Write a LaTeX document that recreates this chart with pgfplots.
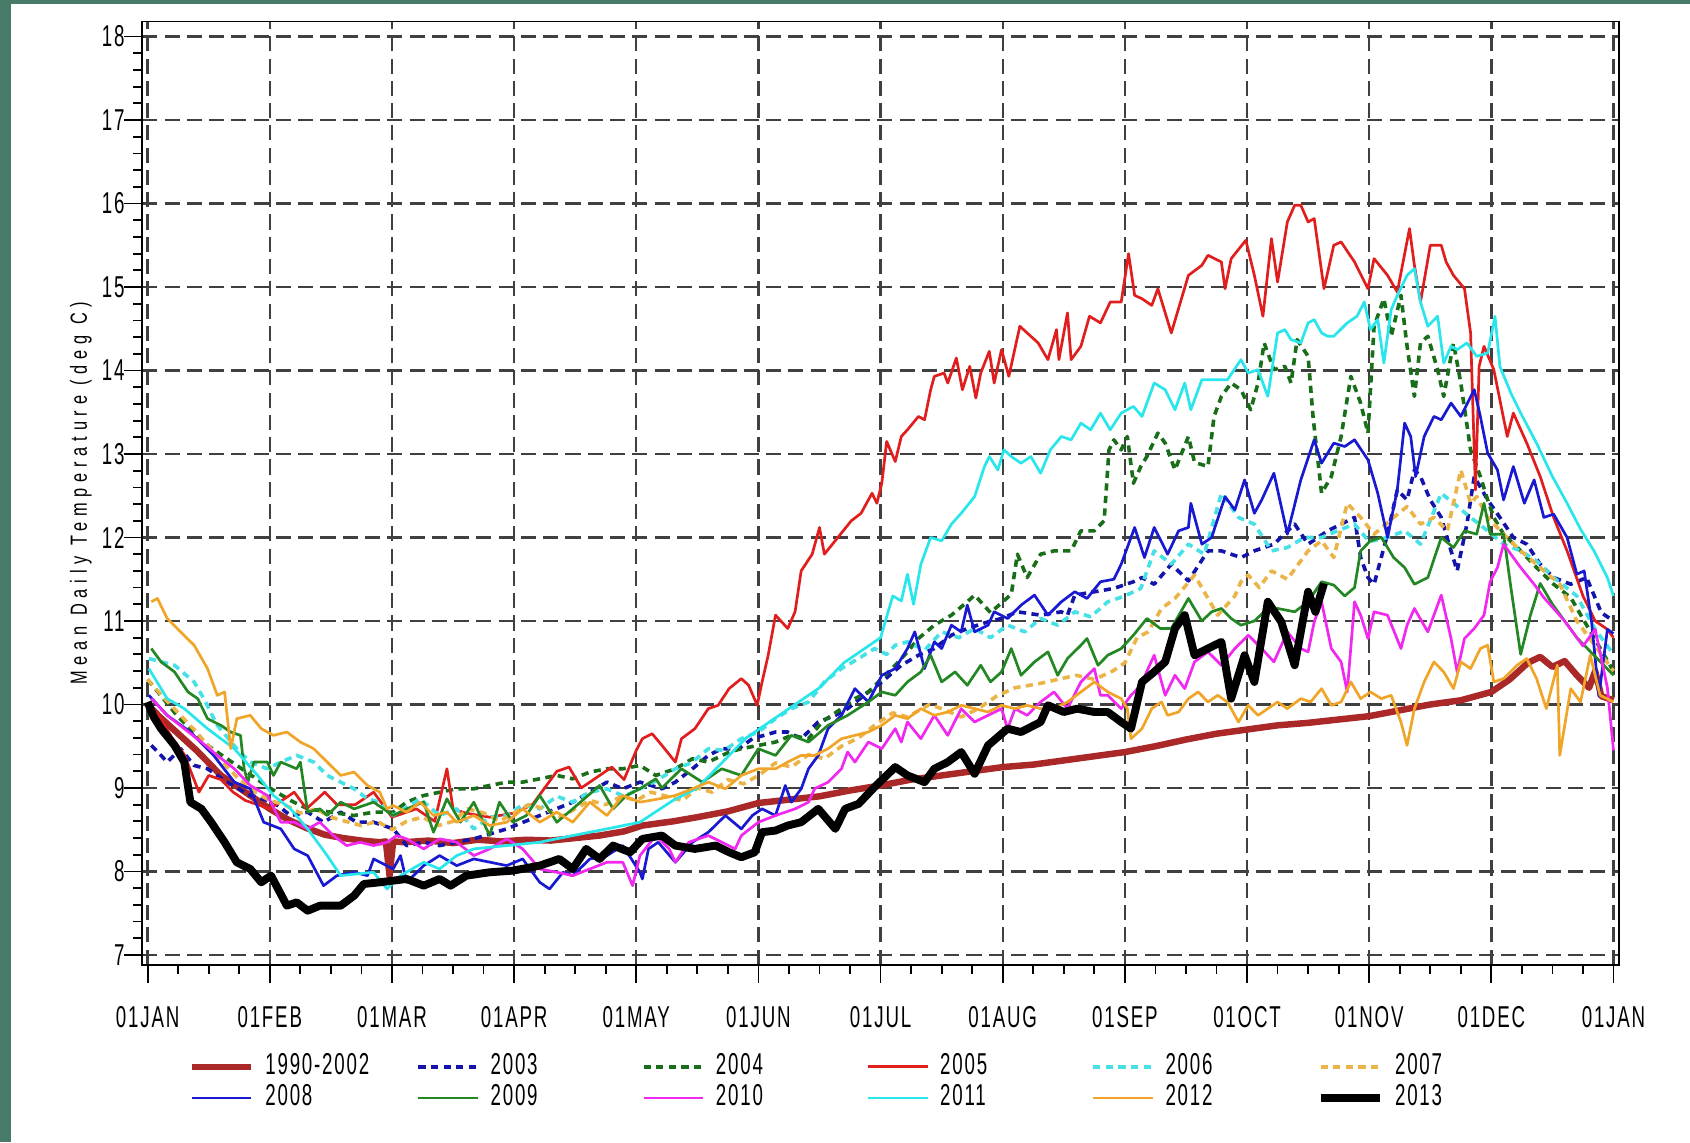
\documentclass[border=0pt]{standalone}
\usepackage{fontspec}
\usepackage{pgfplots}
\pgfplotsset{compat=1.18}
\newfontfamily\tickfont{Liberation Sans}[FakeStretch=0.62,LetterSpace=6]
\newfontfamily\ylabfont{Liberation Sans}[FakeStretch=0.7,LetterSpace=25]

\definecolor{bggreen}{RGB}{72,122,104}
\definecolor{c9002}{RGB}{170,40,40}
\definecolor{c03}{RGB}{20,20,170}
\definecolor{c04}{RGB}{25,110,25}
\definecolor{c05}{RGB}{225,30,30}
\definecolor{c06}{RGB}{70,225,230}
\definecolor{c07}{RGB}{235,180,70}
\definecolor{c08}{RGB}{25,25,210}
\definecolor{c09}{RGB}{35,135,35}
\definecolor{c10}{RGB}{240,40,240}
\definecolor{c11}{RGB}{40,230,235}
\definecolor{c12}{RGB}{240,165,40}

\begin{document}
\begin{tikzpicture}
% frame of the slide
\fill[bggreen] (0,0) rectangle (470.4pt,318pt);
\fill[white] (3pt,0) rectangle (470.4pt,316.8pt);

\begin{axis}[
  scale only axis, width=411pt, height=262.5pt,
  at={(39.6pt,49.5pt)}, anchor=south west,
  xmin=-0.044, xmax=12.044, ymin=6.884, ymax=18.18,
  xtick={0,...,12},
  xticklabels={01JAN,01FEB,01MAR,01APR,01MAY,01JUN,01JUL,01AUG,01SEP,01OCT,01NOV,01DEC,01JAN},
  ytick={7,...,18},
  minor x tick num=3, minor y tick num=4,
  tick align=outside, tick pos=left,
  major tick length=5pt, minor tick length=2.5pt,
  grid=major,
  major grid style={dash pattern=on 4.2pt off 2pt, line width=0.65pt, color=black!75},
  axis line style={line width=0.5pt},
  tick style={black, line width=0.5pt},
  ticklabel style={font=\tickfont\fontsize{8.4}{8.4}\selectfont},
  xticklabel style={yshift=-3pt},
  yticklabel style={xshift=3.6pt},
  /pgf/number format/assume math mode=true,
  ylabel={Mean Daily Temperature (deg C)},
  ylabel style={font=\ylabfont\fontsize{6.5}{6.5}\selectfont, at={(axis description cs:-0.0416,0.5)}, anchor=center},
  every axis plot/.append style={line join=round},
  legend columns=6,
  legend cell align=left,
  legend image code/.code={\draw[#1] (0pt,0pt) -- (16.5pt,0pt);},
  legend style={draw=none, fill=none, at={(axis description cs:0.0235,-0.084)}, anchor=north west,
    font=\tickfont\fontsize{8.4}{8.4}\selectfont,
    nodes={inner sep=0.5pt}, row sep=0.3pt,
    /tikz/every odd column/.append style={column sep=2.6pt},
    /tikz/every even column/.append style={column sep=3.6pt}},
]

% 1990-2002
\addplot[c9002, line width=1.8pt] coordinates {
(0,10.0) (0.1,9.85) (0.25,9.65) (0.4,9.45) (0.5,9.3) (0.6,9.15) (0.75,9.0) (0.9,8.85) (1.0,8.75) (1.15,8.62) (1.3,8.52) (1.45,8.44) (1.6,8.4) (1.75,8.37) (1.9,8.35) (1.95,8.36) (1.98,7.95) (2.01,8.36) (2.1,8.35) (2.3,8.37) (2.5,8.34) (2.7,8.38) (2.9,8.36) (3.1,8.38) (3.3,8.37) (3.5,8.4) (3.7,8.43) (3.9,8.48) (4.05,8.55) (4.3,8.6) (4.5,8.65) (4.75,8.72) (5.0,8.82) (5.25,8.86) (5.5,8.9) (5.75,8.97) (6.0,9.03) (6.25,9.1) (6.5,9.15) (6.75,9.2) (7.0,9.25) (7.25,9.28) (7.5,9.33) (7.75,9.38) (8.0,9.43) (8.25,9.5) (8.5,9.58) (8.75,9.65) (9.0,9.7) (9.25,9.75) (9.5,9.78) (9.75,9.82) (10.0,9.86) (10.25,9.93) (10.5,10.0) (10.75,10.05) (11.0,10.15) (11.15,10.3) (11.3,10.5) (11.4,10.57) (11.5,10.45) (11.6,10.52) (11.7,10.35) (11.8,10.2) (11.85,10.4) (11.9,10.1) (12.0,10.05)};
\addlegendentry{\makebox[38pt][l]{1990-2002}}

% 2003
\addplot[c03, line width=1.0pt, dash pattern=on 2pt off 1.5pt] coordinates {
(0.03,9.51) (0.11,9.39) (0.16,9.31) (0.27,9.47) (0.38,9.27) (0.49,9.23) (0.65,9.07) (0.84,8.91) (1.03,8.83) (1.17,8.67) (1.31,8.71) (1.44,8.59) (1.58,8.71) (1.71,8.59) (1.85,8.59) (2.01,8.51) (2.12,8.31) (2.26,8.35) (2.39,8.31) (2.67,8.39) (2.94,8.51) (3.21,8.67) (3.48,8.83) (3.62,8.95) (3.76,9.07) (3.89,8.99) (4.03,9.07) (4.21,8.99) (4.32,9.07) (4.46,9.23) (4.59,9.39) (4.70,9.47) (4.84,9.47) (4.95,9.59) (5.14,9.67) (5.24,9.67) (5.35,9.59) (5.49,9.79) (5.63,9.87) (5.73,9.95) (5.90,10.15) (6.01,10.27) (6.17,10.47) (6.31,10.59) (6.44,10.67) (6.58,10.83) (6.71,10.91) (6.88,10.99) (6.99,11.03) (7.12,11.11) (7.31,11.07) (7.48,11.11) (7.53,11.07) (7.59,11.31) (7.75,11.35) (7.91,11.39) (8.07,11.47) (8.14,11.52) (8.24,11.44) (8.38,11.68) (8.52,11.48) (8.68,11.84) (8.79,11.84) (8.95,11.76) (9.06,11.84) (9.22,11.92) (9.39,12.16) (9.50,11.92) (9.66,12.08) (9.77,12.16) (9.88,12.24) (9.93,11.76) (9.99,11.52) (10.04,11.44) (10.15,12.04) (10.23,12.57) (10.31,12.45) (10.37,12.81) (10.42,12.73) (10.50,12.45) (10.59,12.24) (10.67,11.84) (10.72,11.60) (10.80,12.16) (10.86,12.73) (10.97,12.45) (11.07,12.24) (11.18,12.0) (11.29,11.92) (11.40,11.68) (11.51,11.52) (11.65,11.44) (11.78,11.52) (11.9,11.1) (12.0,11.0)};
\addlegendentry{\makebox[38pt][l]{2003}}

% 2004
\addplot[c04, line width=1.0pt, dash pattern=on 2pt off 1.5pt] coordinates {
(0,10.3) (0.25,9.85) (0.5,9.5) (0.75,9.25) (1.0,9.0) (1.17,8.85) (1.31,8.75) (1.69,8.67) (1.85,8.71) (2.01,8.71) (2.12,8.83) (2.26,8.91) (2.53,8.99) (2.67,8.99) (2.80,9.03) (2.94,9.07) (3.07,9.07) (3.21,9.11) (3.35,9.15) (3.48,9.11) (3.62,9.19) (3.76,9.23) (3.89,9.23) (4.03,9.27) (4.16,9.15) (4.32,9.23) (4.46,9.35) (4.59,9.31) (4.76,9.43) (4.86,9.47) (5.0,9.51) (5.14,9.55) (5.27,9.63) (5.41,9.59) (5.52,9.79) (5.68,9.95) (5.79,10.07) (5.90,10.15) (6.01,10.31) (6.12,10.47) (6.22,10.63) (6.31,10.79) (6.44,10.95) (6.58,11.07) (6.71,11.23) (6.77,11.31) (6.9,11.1) (7.07,11.32) (7.12,11.80) (7.20,11.52) (7.31,11.80) (7.42,11.84) (7.56,11.84) (7.64,12.08) (7.75,12.08) (7.83,12.20) (7.87,13.05) (7.91,13.17) (7.97,13.05) (8.02,13.21) (8.07,12.65) (8.13,12.85) (8.18,12.97) (8.27,13.25) (8.33,13.13) (8.41,12.81) (8.52,13.21) (8.57,12.9) (8.68,12.85) (8.73,13.45) (8.79,13.69) (8.87,13.85) (8.95,13.77) (9.03,13.53) (9.09,13.85) (9.14,14.33) (9.22,14.01) (9.31,14.05) (9.36,13.85) (9.41,14.37) (9.50,14.17) (9.54,13.45) (9.61,12.53) (9.69,12.73) (9.77,13.21) (9.85,13.93) (9.93,13.61) (9.99,13.25) (10.04,14.53) (10.12,14.86) (10.18,14.41) (10.26,14.90) (10.31,14.29) (10.37,13.69) (10.42,14.33) (10.48,14.41) (10.56,14.01) (10.61,13.69) (10.69,14.33) (10.75,13.85) (10.83,13.05) (10.91,12.73) (10.97,12.45) (11.02,12.24) (11.10,12.04) (11.24,11.84) (11.37,11.64) (11.51,11.44) (11.65,11.28) (11.8,10.9) (12.0,10.4)};
\addlegendentry{\makebox[38pt][l]{2004}}

% 2005
\addplot[c05, line width=0.75pt] coordinates {
(0,10.0) (0.1,9.85) (0.2,9.6) (0.3,9.4) (0.42,8.95) (0.5,9.15) (0.6,9.1) (0.7,8.95) (0.8,8.85) (0.9,8.8) (1.0,8.75) (1.1,8.85) (1.2,8.95) (1.3,8.75) (1.45,8.95) (1.55,8.8) (1.7,8.8) (1.85,8.95) (2.0,8.65) (2.1,8.7) (2.2,8.75) (2.35,8.6) (2.45,9.23) (2.5,8.75) (2.6,8.7) (2.8,8.65) (3.0,8.7) (3.15,8.8) (3.35,9.2) (3.45,9.25) (3.55,9.0) (3.7,9.15) (3.8,9.25) (3.9,9.1) (4.0,9.45) (4.05,9.59) (4.13,9.65) (4.21,9.51) (4.32,9.31) (4.37,9.59) (4.48,9.71) (4.59,9.95) (4.67,9.99) (4.76,10.19) (4.86,10.31) (4.92,10.23) (4.99,9.99) (5.03,10.27) (5.08,10.59) (5.14,11.07) (5.24,10.91) (5.30,11.11) (5.35,11.6) (5.44,11.80) (5.50,12.12) (5.54,11.80) (5.65,12.0) (5.76,12.20) (5.84,12.29) (5.93,12.53) (5.97,12.41) (6.01,12.65) (6.05,13.15) (6.12,12.91) (6.17,13.21) (6.22,13.29) (6.31,13.45) (6.36,13.41) (6.41,13.77) (6.44,13.93) (6.52,13.97) (6.55,13.85) (6.62,14.15) (6.67,13.77) (6.73,14.05) (6.78,13.67) (6.82,13.97) (6.89,14.23) (6.93,13.85) (6.99,14.25) (7.05,13.93) (7.14,14.53) (7.20,14.45) (7.29,14.33) (7.37,14.13) (7.44,14.49) (7.46,14.13) (7.53,14.69) (7.56,14.13) (7.64,14.29) (7.71,14.65) (7.80,14.57) (7.88,14.82) (7.97,14.82) (8.03,15.40) (8.08,14.90) (8.14,14.86) (8.22,14.78) (8.27,14.98) (8.38,14.45) (8.52,15.14) (8.63,15.26) (8.68,15.38) (8.79,15.30) (8.82,14.98) (8.87,15.34) (8.99,15.56) (9.06,15.14) (9.13,14.65) (9.20,15.58) (9.25,15.06) (9.33,15.78) (9.39,15.98) (9.44,15.98) (9.50,15.78) (9.55,15.82) (9.63,14.98) (9.71,15.50) (9.77,15.54) (9.88,15.30) (9.99,14.98) (10.04,15.34) (10.15,15.14) (10.23,14.94) (10.33,15.70) (10.37,15.26) (10.42,14.82) (10.50,15.50) (10.59,15.50) (10.63,15.30) (10.69,15.14) (10.78,14.98) (10.83,14.45) (10.87,12.57) (10.90,14.05) (10.94,14.29) (11.02,14.01) (11.13,13.21) (11.18,13.49) (11.29,13.13) (11.40,12.73) (11.51,12.24) (11.62,11.84) (11.75,11.3) (11.85,11.0) (11.95,10.9) (12.0,10.8)};
\addlegendentry{\makebox[38pt][l]{2005}}

% 2006
\addplot[c06, line width=1.0pt, dash pattern=on 2pt off 1.5pt] coordinates {
(0.01,10.55) (0.22,10.47) (0.38,10.27) (0.46,10.07) (0.57,9.75) (0.73,9.47) (0.84,9.31) (0.98,9.23) (1.09,9.31) (1.22,9.39) (1.36,9.31) (1.47,9.15) (1.58,9.07) (1.69,8.99) (1.80,8.87) (1.90,8.83) (2.01,8.67) (2.23,8.87) (2.39,8.67) (2.53,8.75) (2.67,8.51) (2.80,8.65) (2.94,8.67) (3.07,8.8) (3.21,8.75) (3.35,8.9) (3.48,8.83) (3.62,8.95) (3.76,8.99) (3.9,8.9) (4.03,8.99) (4.18,9.1) (4.32,9.23) (4.45,9.3) (4.59,9.47) (4.72,9.45) (4.86,9.59) (5.0,9.67) (5.14,9.83) (5.27,9.95) (5.41,10.03) (5.54,10.27) (5.68,10.43) (5.82,10.55) (5.95,10.67) (6.05,10.6) (6.12,10.71) (6.22,10.75) (6.36,10.65) (6.50,10.87) (6.64,10.8) (6.77,10.91) (6.9,10.8) (7.04,10.95) (7.18,10.87) (7.31,11.03) (7.45,10.95) (7.59,11.11) (7.72,11.05) (7.86,11.23) (8.0,11.3) (8.13,11.39) (8.24,11.84) (8.38,11.68) (8.52,11.92) (8.65,11.8) (8.79,12.53) (8.93,12.24) (9.06,12.16) (9.20,11.84) (9.33,11.88) (9.47,12.0) (9.61,12.0) (9.74,12.08) (9.88,12.16) (10.0,11.95) (10.15,12.0) (10.29,12.08) (10.42,11.92) (10.59,12.53) (10.69,12.41) (10.83,12.24) (10.97,12.08) (11.10,11.92) (11.24,11.84) (11.37,11.72) (11.51,11.52) (11.7,11.3) (11.85,10.9) (12.0,10.6)};
\addlegendentry{\makebox[38pt][l]{2006}}

% 2007
\addplot[c07, line width=1.0pt, dash pattern=on 2pt off 1.5pt] coordinates {
(0,10.3) (0.12,10.1) (0.25,9.9) (0.38,9.7) (0.5,9.5) (0.62,9.3) (0.75,9.1) (0.88,8.95) (1.0,8.85) (1.12,8.8) (1.25,8.7) (1.38,8.75) (1.5,8.65) (1.62,8.6) (1.75,8.55) (1.88,8.6) (2.0,8.5) (2.12,8.6) (2.25,8.65) (2.38,8.55) (2.5,8.6) (2.62,8.75) (2.75,8.7) (2.88,8.6) (3.0,8.7) (3.12,8.8) (3.25,8.75) (3.38,8.65) (3.5,8.75) (3.62,8.85) (3.75,8.8) (3.88,8.9) (4.0,8.85) (4.12,8.95) (4.25,8.9) (4.38,8.85) (4.5,9.0) (4.62,8.95) (4.75,9.1) (4.88,9.05) (5.0,9.15) (5.14,9.3) (5.27,9.25) (5.41,9.4) (5.54,9.35) (5.68,9.5) (5.82,9.6) (5.95,9.75) (6.1,9.9) (6.22,9.85) (6.4,10.0) (6.5,9.95) (6.66,9.85) (6.8,9.95) (6.95,10.1) (7.1,10.2) (7.3,10.25) (7.45,10.3) (7.6,10.35) (7.75,10.3) (7.9,10.4) (8.0,10.5) (8.1,10.8) (8.19,10.87) (8.3,11.15) (8.41,11.27) (8.57,11.55) (8.76,11.07) (8.9,11.3) (8.95,11.47) (9.01,11.55) (9.1,11.4) (9.2,11.6) (9.33,11.5) (9.5,11.84) (9.61,11.96) (9.71,11.76) (9.82,12.41) (9.93,12.24) (10.04,12.04) (10.2,12.24) (10.31,12.37) (10.42,12.16) (10.53,12.24) (10.64,12.08) (10.75,12.81) (10.83,12.41) (10.88,12.49) (10.97,12.24) (11.10,12.04) (11.24,11.84) (11.40,11.64) (11.56,11.44) (11.7,11.0) (11.85,10.7) (12.0,10.4)};
\addlegendentry{\makebox[38pt][l]{2007}}

% 2008
\addplot[c08, line width=0.75pt] coordinates {
(0.01,10.11) (0.16,9.87) (0.35,9.67) (0.54,9.39) (0.71,9.07) (0.84,8.99) (0.95,8.59) (1.09,8.51) (1.20,8.27) (1.31,8.19) (1.44,7.83) (1.55,7.95) (1.69,7.99) (1.80,7.95) (1.85,8.15) (2.01,8.03) (2.07,8.19) (2.12,7.87) (2.26,8.07) (2.39,8.19) (2.53,8.07) (2.67,8.15) (2.94,8.07) (3.07,8.15) (3.21,7.87) (3.29,7.79) (3.40,7.99) (3.48,7.95) (3.62,8.15) (3.76,8.19) (3.89,8.31) (4.03,7.99) (4.05,7.91) (4.10,8.27) (4.18,8.35) (4.32,8.11) (4.46,8.35) (4.59,8.47) (4.73,8.67) (4.86,8.51) (4.95,8.67) (5.03,8.75) (5.14,8.67) (5.22,9.03) (5.27,8.83) (5.35,8.99) (5.41,9.23) (5.49,9.39) (5.57,9.71) (5.68,9.87) (5.79,10.19) (5.90,10.03) (6.01,10.35) (6.12,10.43) (6.22,10.67) (6.28,10.87) (6.36,10.43) (6.44,10.75) (6.50,10.67) (6.58,10.95) (6.66,10.87) (6.71,11.19) (6.77,10.87) (6.88,10.95) (6.93,11.11) (7.04,11.03) (7.15,11.19) (7.26,11.31) (7.37,11.07) (7.48,11.23) (7.59,11.35) (7.69,11.27) (7.80,11.47) (7.91,11.5) (7.97,11.68) (8.08,12.12) (8.16,11.76) (8.24,12.12) (8.35,11.80) (8.44,12.08) (8.52,12.12) (8.54,12.41) (8.63,11.92) (8.71,12.0) (8.82,12.49) (8.90,12.33) (8.98,12.69) (9.06,12.29) (9.12,12.45) (9.22,12.77) (9.33,12.04) (9.44,12.69) (9.55,13.17) (9.61,12.89) (9.71,13.13) (9.80,13.09) (9.88,13.17) (9.99,12.93) (10.07,12.53) (10.15,12.0) (10.23,12.57) (10.29,13.37) (10.34,13.21) (10.38,12.73) (10.45,13.21) (10.53,13.45) (10.59,13.41) (10.67,13.61) (10.75,13.45) (10.86,13.77) (10.91,13.45) (10.97,13.01) (11.05,12.81) (11.10,12.45) (11.18,12.85) (11.27,12.41) (11.35,12.69) (11.43,12.24) (11.51,12.28) (11.62,12.0) (11.70,11.56) (11.76,11.6) (11.82,11.0) (11.88,10.1) (11.95,10.9) (12.0,10.85)};
\addlegendentry{\makebox[38pt][l]{2008}}

% 2009
\addplot[c09, line width=0.75pt] coordinates {
(0.03,10.67) (0.11,10.51) (0.22,10.39) (0.33,10.15) (0.41,10.07) (0.49,9.83) (0.60,9.75) (0.68,9.67) (0.76,9.63) (0.79,9.23) (0.82,9.07) (0.87,9.31) (0.98,9.31) (1.03,9.15) (1.09,9.31) (1.22,9.23) (1.25,9.31) (1.31,8.71) (1.41,8.75) (1.47,8.67) (1.58,8.83) (1.69,8.75) (1.85,8.83) (2.01,8.67) (2.12,8.75) (2.26,8.83) (2.34,8.47) (2.45,8.87) (2.56,8.59) (2.67,8.83) (2.80,8.43) (2.88,8.83) (2.99,8.59) (3.10,8.67) (3.21,8.91) (3.35,8.59) (3.48,8.75) (3.70,9.03) (3.81,8.75) (3.92,8.91) (4.03,8.99) (4.16,9.11) (4.21,9.0) (4.37,9.23) (4.54,9.07) (4.70,9.23) (4.86,9.15) (5.0,9.47) (5.14,9.39) (5.27,9.63) (5.41,9.55) (5.57,9.75) (5.73,9.87) (5.90,10.03) (6.01,10.15) (6.12,10.11) (6.22,10.27) (6.33,10.39) (6.41,10.59) (6.50,10.27) (6.61,10.39) (6.71,10.23) (6.82,10.47) (6.90,10.27) (6.99,10.39) (7.07,10.67) (7.15,10.35) (7.26,10.51) (7.37,10.63) (7.45,10.35) (7.53,10.55) (7.64,10.71) (7.69,10.79) (7.78,10.47) (7.86,10.59) (7.97,10.67) (8.07,10.83) (8.18,11.03) (8.29,10.91) (8.38,10.91) (8.52,11.27) (8.63,11.0) (8.71,11.11) (8.79,11.15) (8.87,11.03) (8.95,10.95) (9.06,11.0) (9.14,11.11) (9.25,11.15) (9.39,11.11) (9.50,11.23) (9.61,11.47) (9.71,11.43) (9.80,11.3) (9.88,11.4) (9.93,11.84) (10.01,11.96) (10.10,12.0) (10.20,11.76) (10.29,11.64) (10.37,11.44) (10.48,11.52) (10.59,12.0) (10.69,11.88) (10.78,12.08) (10.88,12.04) (10.94,12.41) (10.99,12.04) (11.10,12.04) (11.16,11.4) (11.24,10.6) (11.32,11.07) (11.40,11.45) (11.5,11.2) (11.6,11.0) (11.7,10.8) (11.8,10.65) (11.9,10.5) (12.0,10.35)};
\addlegendentry{\makebox[38pt][l]{2009}}

% 2010
\addplot[c10, line width=0.75pt] coordinates {
(0.03,10.07) (0.16,9.87) (0.30,9.71) (0.44,9.55) (0.57,9.39) (0.71,9.23) (0.84,9.03) (0.98,8.91) (1.09,8.59) (1.20,8.59) (1.31,8.51) (1.41,8.59) (1.52,8.43) (1.63,8.31) (1.74,8.35) (1.85,8.31) (1.96,8.35) (2.04,8.43) (2.12,8.39) (2.26,8.27) (2.39,8.39) (2.53,8.35) (2.67,8.19) (2.80,8.27) (2.94,8.39) (3.07,8.27) (3.21,8.03) (3.35,7.99) (3.48,7.95) (3.62,8.03) (3.76,8.11) (3.89,8.11) (3.97,7.83) (4.03,8.19) (4.16,8.43) (4.27,8.27) (4.32,8.11) (4.43,8.35) (4.59,8.43) (4.81,8.27) (4.86,8.43) (5.0,8.59) (5.14,8.67) (5.30,8.75) (5.41,8.83) (5.46,8.99) (5.57,9.07) (5.68,9.23) (5.73,9.43) (5.79,9.31) (5.90,9.55) (6.01,9.47) (6.12,9.71) (6.17,9.55) (6.22,9.79) (6.33,9.59) (6.44,9.87) (6.55,9.63) (6.66,9.95) (6.77,9.79) (6.88,9.87) (6.99,9.95) (7.04,9.71) (7.10,9.95) (7.20,9.87) (7.31,10.03) (7.42,10.15) (7.53,9.95) (7.64,10.27) (7.75,10.43) (7.80,10.11) (7.86,10.11) (7.97,9.95) (8.05,10.11) (8.13,10.23) (8.19,10.43) (8.24,10.59) (8.33,10.11) (8.41,10.35) (8.49,10.19) (8.57,10.51) (8.68,10.63) (8.79,10.47) (8.90,10.67) (9.01,10.83) (9.12,10.67) (9.22,10.51) (9.33,10.87) (9.44,10.67) (9.50,10.63) (9.55,10.99) (9.61,11.23) (9.69,10.67) (9.77,10.51) (9.82,10.15) (9.88,11.23) (9.93,11.07) (9.99,10.79) (10.04,11.11) (10.15,11.07) (10.26,10.67) (10.31,10.95) (10.37,11.15) (10.48,10.87) (10.59,11.31) (10.67,10.79) (10.72,10.39) (10.78,10.79) (10.86,10.91) (10.94,11.07) (10.99,11.47) (11.05,11.64) (11.10,11.92) (11.24,11.64) (11.35,11.44) (11.43,11.28) (11.6,11.0) (11.75,10.7) (11.85,10.9) (11.95,10.2) (12.0,9.45)};
\addlegendentry{\makebox[38pt][l]{2010}}

% 2011
\addplot[c11, line width=0.75pt] coordinates {
(0.01,10.43) (0.16,10.07) (0.30,9.95) (0.49,9.71) (0.71,9.47) (0.90,9.15) (1.03,8.91) (1.17,8.75) (1.31,8.51) (1.47,8.19) (1.58,7.95) (1.71,7.97) (1.85,7.99) (1.96,7.79) (2.07,7.95) (2.26,8.11) (2.39,8.03) (2.53,8.19) (2.67,8.27) (2.94,8.31) (3.21,8.35) (3.48,8.43) (3.76,8.51) (4.03,8.59) (4.3,8.85) (4.5,9.0) (4.7,9.3) (4.9,9.6) (5.1,9.8) (5.3,10.0) (5.5,10.2) (5.7,10.5) (5.9,10.7) (6.0,10.8) (6.1,11.3) (6.17,11.24) (6.22,11.56) (6.27,11.2) (6.33,11.68) (6.41,12.0) (6.50,11.96) (6.58,12.16) (6.66,12.29) (6.77,12.49) (6.85,12.85) (6.89,12.97) (6.96,12.81) (7.01,13.05) (7.07,12.97) (7.15,12.89) (7.23,12.97) (7.31,12.77) (7.39,13.05) (7.48,13.21) (7.56,13.17) (7.64,13.37) (7.72,13.29) (7.80,13.49) (7.88,13.29) (7.97,13.49) (8.07,13.57) (8.14,13.45) (8.24,13.85) (8.33,13.77) (8.41,13.53) (8.49,13.85) (8.54,13.53) (8.63,13.89) (8.73,13.89) (8.84,13.89) (8.95,14.13) (9.01,13.97) (9.09,14.01) (9.17,13.69) (9.25,14.45) (9.31,14.49) (9.36,14.37) (9.44,14.33) (9.50,14.57) (9.55,14.61) (9.61,14.45) (9.66,14.41) (9.71,14.41) (9.82,14.57) (9.90,14.65) (9.96,14.82) (10.01,14.49) (10.07,14.61) (10.12,14.09) (10.18,14.73) (10.23,14.90) (10.31,15.14) (10.37,15.22) (10.42,14.82) (10.48,14.53) (10.56,14.65) (10.61,14.09) (10.67,14.29) (10.72,14.25) (10.80,14.33) (10.88,14.17) (10.97,14.21) (11.03,14.65) (11.07,14.05) (11.16,13.73) (11.24,13.49) (11.37,13.13) (11.50,12.73) (11.62,12.41) (11.73,12.10) (11.84,11.84) (11.95,11.52) (12.0,11.3)};
\addlegendentry{\makebox[38pt][l]{2011}}

% 2012
\addplot[c12, line width=0.75pt] coordinates {
(0.03,11.23) (0.08,11.27) (0.16,11.03) (0.27,10.87) (0.38,10.71) (0.49,10.43) (0.57,10.11) (0.63,10.15) (0.68,9.47) (0.73,9.83) (0.84,9.87) (0.93,9.71) (1.03,9.63) (1.14,9.67) (1.25,9.55) (1.36,9.47) (1.47,9.31) (1.58,9.15) (1.69,9.19) (1.80,9.03) (1.90,8.95) (1.96,8.75) (2.01,8.79) (2.12,8.71) (2.23,8.83) (2.34,8.67) (2.45,8.71) (2.53,8.59) (2.67,8.67) (2.80,8.55) (2.94,8.59) (3.07,8.75) (3.21,8.59) (3.35,8.71) (3.48,8.59) (3.62,8.83) (3.76,8.67) (3.89,8.91) (4.03,8.83) (4.19,8.87) (4.32,8.91) (4.46,8.99) (4.59,9.07) (4.73,8.99) (4.86,9.15) (5.0,9.23) (5.14,9.23) (5.24,9.31) (5.35,9.39) (5.46,9.39) (5.57,9.47) (5.68,9.59) (5.79,9.63) (5.90,9.67) (6.01,9.75) (6.12,9.87) (6.22,9.83) (6.33,9.95) (6.44,9.87) (6.55,9.91) (6.66,9.99) (6.77,9.95) (6.88,9.91) (6.99,9.99) (7.10,9.95) (7.20,9.99) (7.31,9.95) (7.42,9.95) (7.53,10.03) (7.64,10.15) (7.75,10.27) (7.86,10.15) (7.97,10.07) (8.02,9.95) (8.05,9.59) (8.14,9.71) (8.22,9.95) (8.30,10.03) (8.35,9.87) (8.44,9.91) (8.52,10.07) (8.60,10.15) (8.68,10.03) (8.76,10.11) (8.84,10.03) (8.93,9.79) (9.01,9.99) (9.09,9.87) (9.17,9.95) (9.25,10.03) (9.33,9.95) (9.44,10.07) (9.52,10.03) (9.61,10.19) (9.69,9.99) (9.77,10.03) (9.85,10.27) (9.93,10.07) (10.01,10.15) (10.10,10.07) (10.18,10.11) (10.26,9.79) (10.31,9.51) (10.37,9.95) (10.45,10.27) (10.53,10.51) (10.61,10.39) (10.69,10.19) (10.75,10.51) (10.83,10.43) (10.91,10.67) (10.97,10.71) (11.02,10.27) (11.10,10.31) (11.21,10.47) (11.29,10.55) (11.37,10.31) (11.45,9.95) (11.54,10.47) (11.56,9.39) (11.65,10.19) (11.73,10.03) (11.81,10.59) (11.89,10.11) (12.0,10.03)};
\addlegendentry{\makebox[38pt][l]{2012}}

% 2013
\addplot[black, line width=2.2pt] coordinates {
(0,10.03) (0.05,9.85) (0.11,9.71) (0.22,9.51) (0.30,9.31) (0.35,8.83) (0.44,8.75) (0.52,8.59) (0.63,8.35) (0.73,8.11) (0.84,8.03) (0.93,7.87) (1.01,7.95) (1.14,7.59) (1.22,7.63) (1.31,7.53) (1.41,7.59) (1.58,7.59) (1.69,7.71) (1.77,7.85) (1.90,7.87) (2.12,7.91) (2.26,7.83) (2.39,7.91) (2.48,7.83) (2.61,7.95) (2.80,7.99) (2.99,8.01) (3.21,8.07) (3.37,8.15) (3.48,8.03) (3.59,8.27) (3.70,8.15) (3.81,8.31) (3.95,8.23) (4.05,8.39) (4.21,8.43) (4.32,8.31) (4.48,8.27) (4.65,8.31) (4.76,8.23) (4.86,8.17) (4.97,8.23) (5.03,8.47) (5.14,8.49) (5.24,8.55) (5.35,8.59) (5.49,8.75) (5.63,8.51) (5.71,8.75) (5.82,8.81) (5.95,9.01) (6.12,9.25) (6.22,9.15) (6.36,9.07) (6.44,9.23) (6.55,9.31) (6.66,9.43) (6.77,9.17) (6.88,9.51) (7.04,9.71) (7.15,9.67) (7.31,9.79) (7.37,9.99) (7.50,9.91) (7.61,9.95) (7.75,9.91) (7.86,9.91) (7.97,9.79) (8.05,9.71) (8.14,10.27) (8.24,10.39) (8.33,10.51) (8.41,10.91) (8.49,11.07) (8.57,10.59) (8.68,10.67) (8.79,10.75) (8.87,10.07) (8.98,10.59) (9.06,10.27) (9.17,11.23) (9.28,10.99) (9.39,10.47) (9.50,11.35) (9.56,11.11) (9.63,11.45)};
\addlegendentry{\makebox[38pt][l]{2013}}

\end{axis}
\end{tikzpicture}
\end{document}
